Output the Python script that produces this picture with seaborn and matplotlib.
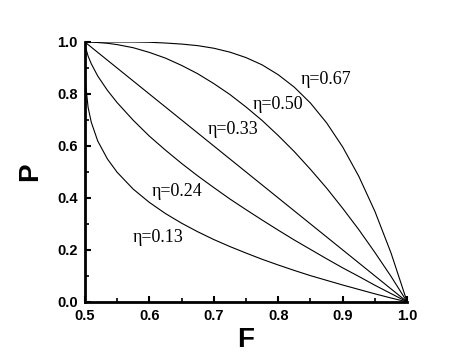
import matplotlib
matplotlib.use("Agg")
import matplotlib.pyplot as plt
import seaborn as sns
from matplotlib.ticker import MultipleLocator, FormatStrFormatter

sns.set_style("ticks")
plt.rcParams['font.family'] = ['Liberation Sans', 'DejaVu Sans']
plt.rcParams['text.color'] = 'black'
plt.rcParams['axes.labelcolor'] = 'black'
plt.rcParams['xtick.color'] = 'black'
plt.rcParams['ytick.color'] = 'black'
plt.rcParams['axes.edgecolor'] = 'black'

# fidelity values shared by all curves
F = [0.5, 0.501, 0.505, 0.51, 0.52, 0.535, 0.55, 0.575, 0.6, 0.625, 0.65,
     0.675, 0.7, 0.725, 0.75, 0.775, 0.8, 0.825, 0.85, 0.875, 0.9, 0.925,
     0.95, 0.975, 1.0]

# success probability
P_013 = [1.0, 0.845, 0.749, 0.691, 0.619, 0.550, 0.499, 0.434, 0.383, 0.340,
         0.303, 0.270, 0.240, 0.213, 0.188, 0.164, 0.142, 0.121, 0.101,
         0.083, 0.065, 0.048, 0.031, 0.015, 0.0]
P_024 = [1.0, 0.980, 0.946, 0.916, 0.869, 0.814, 0.767, 0.699, 0.638, 0.584,
         0.533, 0.485, 0.440, 0.396, 0.355, 0.315, 0.276, 0.238, 0.202,
         0.166, 0.131, 0.098, 0.064, 0.032, 0.0]
P_033 = [1.0, 0.998, 0.99, 0.98, 0.96, 0.93, 0.90, 0.85, 0.80, 0.75, 0.70,
         0.65, 0.60, 0.55, 0.50, 0.45, 0.40, 0.35, 0.30, 0.25, 0.20, 0.15,
         0.10, 0.05, 0.0]
P_050 = [1.0, 1.0, 1.0, 1.0, 0.998, 0.995, 0.990, 0.978, 0.960, 0.938, 0.910,
         0.878, 0.840, 0.798, 0.750, 0.698, 0.640, 0.578, 0.510, 0.438,
         0.360, 0.278, 0.190, 0.098, 0.0]
P_067 = [1.0, 1.0, 1.0, 1.0, 1.0, 1.0, 1.0, 1.0, 0.999, 0.996, 0.992,
         0.986, 0.976, 0.961, 0.940, 0.912, 0.874, 0.826, 0.765, 0.689,
         0.596, 0.483, 0.348, 0.188, 0.0]

curves = {'0.13': P_013, '0.24': P_024, '0.33': P_033,
          '0.50': P_050, '0.67': P_067}

# label anchor points (F, P) for the eta annotations
label_text = ['η=0.13', 'η=0.24', 'η=0.33', 'η=0.50', 'η=0.67']
label_F = [0.5745, 0.603, 0.691, 0.761, 0.8345]
label_P = [0.246, 0.423, 0.662, 0.758, 0.854]

fig, ax = plt.subplots(figsize=(4.74, 3.62), dpi=100)
fig.subplots_adjust(left=0.179, right=0.859, bottom=0.166, top=0.884)

for eta, P in curves.items():
    sns.lineplot(x=F, y=P, color='black', linewidth=0.8, ax=ax,
                 sort=False, estimator=None)

for txt, fx, py in zip(label_text, label_F, label_P):
    ax.text(fx, py, txt, fontsize=13, va='center', ha='left',
            family=['Liberation Serif', 'DejaVu Serif'])

ax.set_xlim(0.5, 1.0)
ax.set_ylim(0.0, 1.0)
ax.xaxis.set_major_locator(MultipleLocator(0.1))
ax.xaxis.set_minor_locator(MultipleLocator(0.05))
ax.yaxis.set_major_locator(MultipleLocator(0.2))
ax.yaxis.set_minor_locator(MultipleLocator(0.1))
ax.xaxis.set_major_formatter(FormatStrFormatter('%.1f'))
ax.yaxis.set_major_formatter(FormatStrFormatter('%.1f'))

ax.tick_params(which='major', direction='in', length=4, width=1.5,
               labelsize=10.5, pad=5)
ax.tick_params(which='minor', direction='in', length=3, width=1.2)
for lab in ax.get_xticklabels() + ax.get_yticklabels():
    lab.set_fontweight('bold')

sns.despine(ax=ax)
ax.spines['left'].set_linewidth(2)
ax.spines['bottom'].set_linewidth(2)

ax.set_xlabel('F', fontsize=20, fontweight='bold', labelpad=3)
ax.set_ylabel('P', fontsize=20, fontweight='bold', labelpad=10)

fig.savefig('out.png', dpi=100)
